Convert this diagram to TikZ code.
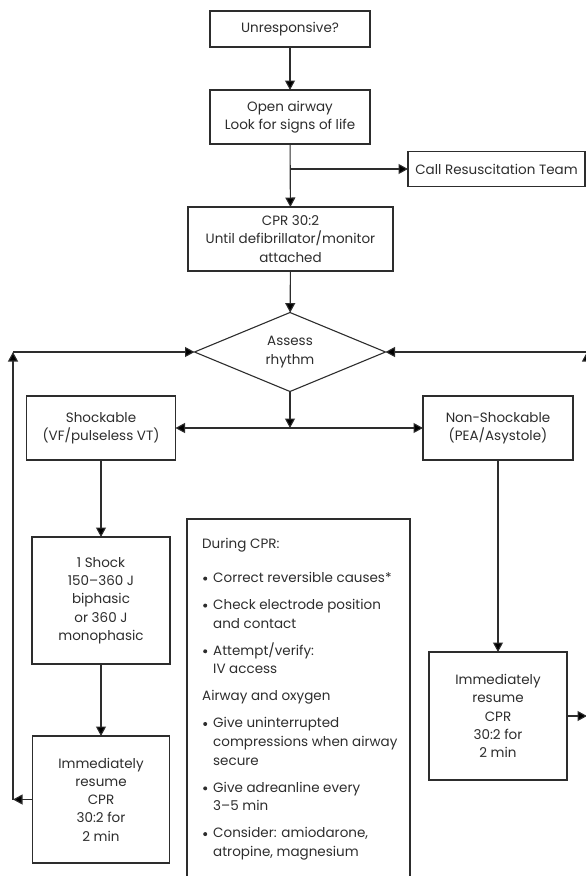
\documentclass[tikz,border=0pt]{standalone}
\usepackage{fontspec}
\setmainfont{Poppins}
\usetikzlibrary{arrows.meta,shapes.geometric}
\definecolor{ink}{RGB}{45,45,45}
\newcommand{\cbul}{\makebox[11pt][l]{\hspace{1pt}\raisebox{1.9pt}{\tikz\fill[ink] (0pt,0pt) circle (2pt);}}}
\newcommand{\cind}{\hspace*{11pt}}
\begin{document}
\begin{tikzpicture}[x=1pt,y=-1pt,
  box/.style={draw=ink, line width=1.1pt, fill=white, align=center, inner sep=0pt, outer sep=0pt, text=ink, font=\fontsize{13.5}{18.3}\selectfont},
  ln/.style={draw=ink, line width=1.1pt},
  arr/.style={ln, -{Triangle[length=9.5pt,width=10pt]}}]
\useasboundingbox (0,0) rectangle (586,876);
\clip (0,0) rectangle (586,876);
\node[box, minimum width=160, minimum height=36] (unresp) at (290,29) {Unresponsive?};
\node[box, minimum width=160, minimum height=54] (open) at (290,117) {Open airway\\Look for signs of life};
\node[box, minimum width=177, minimum height=35] (call) at (496.5,169) {Call Resuscitation Team};
\node[box, minimum width=205, minimum height=64] (cpr) at (290.5,239) {CPR 30:2\\Until defibrillator/monitor\\attached};
\node[box, shape=diamond, aspect=2.42, minimum width=191, minimum height=79] (diam) at (290,352) {Assess\\rhythm};
\node[box, minimum width=149, minimum height=64] (shockable) at (101,428) {Shockable\\(VF/pulseless VT)};
\node[box, minimum width=150, minimum height=64] (nonshock) at (498,428) {Non-Shockable\\(PEA/Asystole)};
\node[box, minimum width=138, minimum height=127] (shock1) at (101,600.5) {1 Shock\\150–360 J\\biphasic\\or 360 J\\monophasic};
\node[box, minimum width=137, minimum height=127] (immL) at (101,799.5) {Immediately\\resume\\CPR\\30:2 for\\2 min};
\node[box, minimum width=138, minimum height=128] (immR) at (498,716) {Immediately\\resume\\CPR\\30:2 for\\2 min};
\draw[ln] (187,880) -- (187,519) -- (410,519) -- (410,880);
\node[align=left, anchor=north west, inner sep=0pt, text=ink, font=\fontsize{13.5}{18.7}\selectfont] (during) at (202,538) {During CPR:\\[15.3pt]
\cbul Correct reversible causes*\\[8.3pt]
\cbul Check electrode position\\
\cind and contact\\[8.3pt]
\cbul Attempt/verify:\\
\cind IV access\\[8.3pt]
Airway and oxygen\\[8.3pt]
\cbul Give uninterrupted\\
\cind compressions when airway\\
\cind secure\\[8.3pt]
\cbul Give adreanline every\\
\cind 3–5 min\\[8.3pt]
\cbul Consider: amiodarone,\\
\cind atropine, magnesium};
\coordinate (br1) at (290,169);
\coordinate (br2) at (290,428);
\coordinate (lb) at (13,799.5);
\coordinate (lt) at (13,352);
\coordinate (rb) at (587,716);
\coordinate (rt) at (587,352);
\draw[arr] (unresp) -- (open);
\draw[arr] (open) -- (cpr);
\draw[arr] (br1) -- (call);
\draw[arr] (cpr) -- (diam);
\draw[arr] (diam) -- (br2);
\draw[arr] (br2) -- (shockable);
\draw[arr] (br2) -- (nonshock);
\draw[arr] (shockable) -- (shock1);
\draw[arr] (shock1) -- (immL);
\draw[arr] (nonshock) -- (immR);
\draw[arr] (immL) -- (lb);
\draw[arr] (lb) -- (lt);
\draw[arr] (lt) -- (diam);
\draw[arr] (immR) -- (rb);
\draw[arr] (rb) -- (rt);
\draw[arr] (rt) -- (diam);
\end{tikzpicture}
\end{document}
